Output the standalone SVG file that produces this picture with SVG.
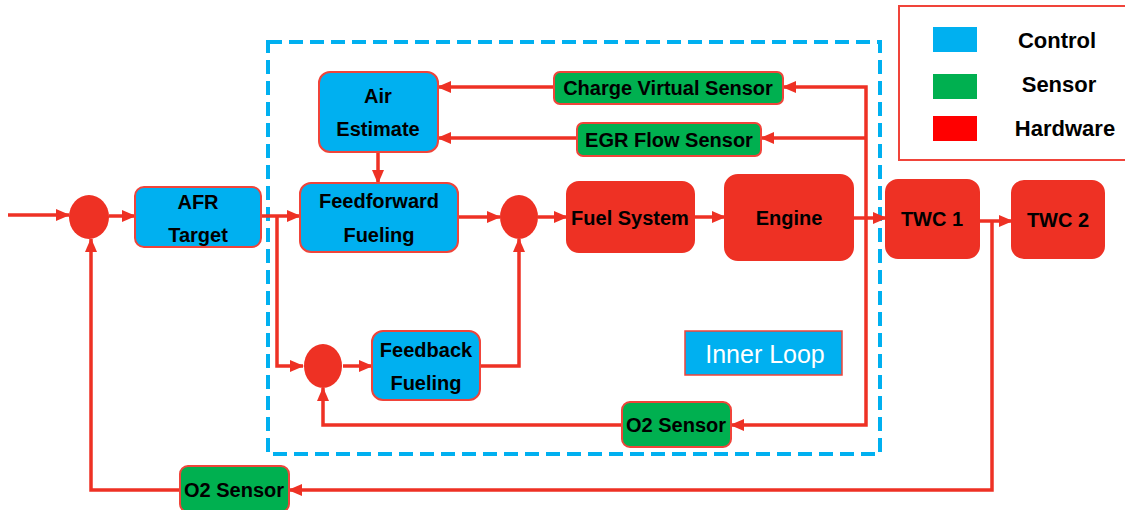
<svg xmlns="http://www.w3.org/2000/svg" width="1125" height="510" viewBox="0 0 1125 510">
<style>
.ctl{fill:#00b0f0;stroke:#f0443a;stroke-width:2}
.sen{fill:#00b050;stroke:#f0443a;stroke-width:2}
.hw{fill:#ee3124;stroke:#ee3124;stroke-width:2}
.sum{fill:#ee3124}
.t{font-family:"Liberation Sans",Arial,sans-serif;font-weight:bold;font-size:20px;fill:#000;text-anchor:middle;dominant-baseline:central}
.lg{font-family:"Liberation Sans",Arial,sans-serif;font-weight:bold;font-size:22px;fill:#000;text-anchor:middle;dominant-baseline:central}
.c{fill:none;stroke:#ee3124;stroke-width:3.5;stroke-linejoin:miter}
</style>
<defs>
<marker id="ah" markerUnits="userSpaceOnUse" markerWidth="14" markerHeight="12" refX="13" refY="6" orient="auto">
<path d="M0,0 L14,6 L0,12 z" fill="#ee3124"/>
</marker>
</defs>
<rect width="1125" height="510" fill="#fff"/>

<g id="inner-loop-boundary">
<rect x="268" y="42" width="612" height="412" fill="none" stroke="#00b0f0" stroke-width="4" stroke-dasharray="14,7"/>
</g>

<g id="legend">
<rect x="899" y="6" width="240" height="154" fill="#fff" stroke="#f0443a" stroke-width="2"/>
<rect x="933" y="27" width="44" height="25" fill="#00b0f0"/>
<rect x="933" y="74" width="44" height="25" fill="#00b050"/>
<rect x="933" y="116" width="44" height="25" fill="#ff0000"/>
<text class="lg" x="1057" y="40">Control</text>
<text class="lg" x="1059" y="84">Sensor</text>
<text class="lg" x="1065" y="128">Hardware</text>
</g>

<g id="connectors">
<path class="c" d="M8,215 L69,215" marker-end="url(#ah)"/>
<path class="c" d="M109,216 L135,216" marker-end="url(#ah)"/>
<path class="c" d="M261,216 L300,216" marker-end="url(#ah)"/>
<path class="c" d="M277,216 L277,366 L303,366" marker-end="url(#ah)"/>
<path class="c" d="M378,152 L378,183" marker-end="url(#ah)"/>
<path class="c" d="M458,217 L500,217" marker-end="url(#ah)"/>
<path class="c" d="M538,217 L567,217" marker-end="url(#ah)"/>
<path class="c" d="M694,217 L725,217" marker-end="url(#ah)"/>
<path class="c" d="M853,218 L886,218" marker-end="url(#ah)"/>
<path class="c" d="M866,218 L866,87 L783,87" marker-end="url(#ah)"/>
<path class="c" d="M866,138 L761,138" marker-end="url(#ah)"/>
<path class="c" d="M866,218 L866,425 L731,425" marker-end="url(#ah)"/>
<path class="c" d="M554,87 L438,87" marker-end="url(#ah)"/>
<path class="c" d="M577,138 L438,138" marker-end="url(#ah)"/>
<path class="c" d="M622,425 L323,425 L323,388" marker-end="url(#ah)"/>
<path class="c" d="M343,366 L372,366" marker-end="url(#ah)"/>
<path class="c" d="M480,366 L519,366 L519,239" marker-end="url(#ah)"/>
<path class="c" d="M979,221 L1012,221" marker-end="url(#ah)"/>
<path class="c" d="M992,221 L992,490 L289,490" marker-end="url(#ah)"/>
<path class="c" d="M180,490 L91,490 L91,239" marker-end="url(#ah)"/>
</g>

<g id="sum1"><ellipse class="sum" cx="89" cy="217" rx="20" ry="22"/></g>
<g id="sum2"><ellipse class="sum" cx="519" cy="217" rx="19" ry="22"/></g>
<g id="sum3"><ellipse class="sum" cx="323" cy="366" rx="19" ry="22"/></g>

<g id="afr-target"><rect class="ctl" x="135" y="187" width="126" height="60" rx="9"/><text class="t" x="198" y="202">AFR</text><text class="t" x="198" y="235">Target</text></g>
<g id="air-estimate"><rect class="ctl" x="319" y="72" width="119" height="80" rx="11"/><text class="t" x="378" y="96">Air</text><text class="t" x="378" y="129">Estimate</text></g>
<g id="feedforward-fueling"><rect class="ctl" x="300" y="183" width="158" height="69" rx="11"/><text class="t" x="379" y="201">Feedforward</text><text class="t" x="379" y="235">Fueling</text></g>
<g id="feedback-fueling"><rect class="ctl" x="372" y="331" width="108" height="69" rx="11"/><text class="t" x="426" y="350">Feedback</text><text class="t" x="426" y="383">Fueling</text></g>
<g id="fuel-system"><rect class="hw" x="567" y="182" width="127" height="70" rx="12"/><text class="t" x="630" y="218">Fuel System</text></g>
<g id="engine"><rect class="hw" x="725" y="175" width="128" height="85" rx="13"/><text class="t" x="789" y="218">Engine</text></g>
<g id="twc1"><rect class="hw" x="886" y="180" width="93" height="78" rx="12"/><text class="t" x="932" y="219">TWC 1</text></g>
<g id="twc2"><rect class="hw" x="1012" y="181" width="92" height="77" rx="12"/><text class="t" x="1058" y="220">TWC 2</text></g>
<g id="charge-virtual-sensor"><rect class="sen" x="554" y="72" width="229" height="32" rx="6"/><text class="t" x="668" y="88">Charge Virtual Sensor</text></g>
<g id="egr-flow-sensor"><rect class="sen" x="577" y="123" width="184" height="33" rx="6"/><text class="t" x="669" y="140">EGR Flow Sensor</text></g>
<g id="o2-sensor-inner"><rect class="sen" x="622" y="402" width="109" height="45" rx="8"/><text class="t" x="676" y="425">O2 Sensor</text></g>
<g id="o2-sensor-outer"><rect class="sen" x="180" y="466" width="109" height="46" rx="8"/><text class="t" x="234" y="490">O2 Sensor</text></g>
<g id="inner-loop-label"><rect x="685" y="331" width="157" height="44" fill="#00b0f0" stroke="#f0443a" stroke-width="1.5"/><text x="765" y="354" font-family="Liberation Sans,Arial,sans-serif" font-size="25" fill="#fff" text-anchor="middle" dominant-baseline="central">Inner Loop</text></g>
</svg>
